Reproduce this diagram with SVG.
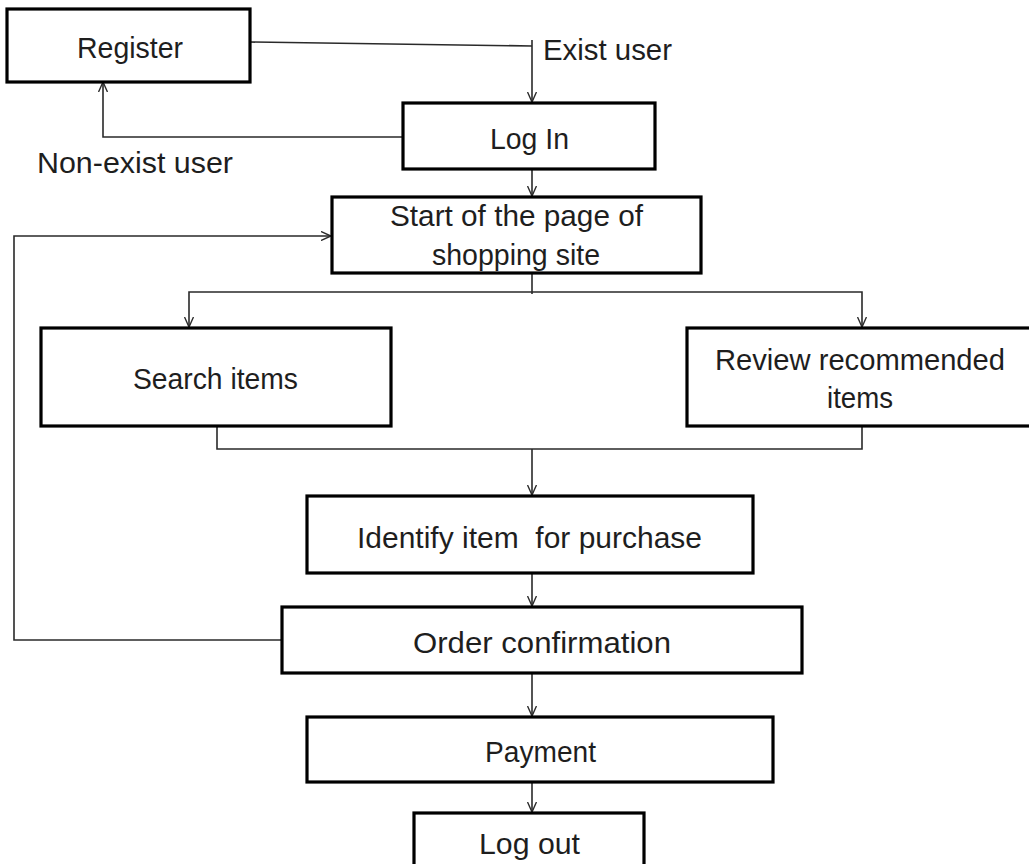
<svg xmlns="http://www.w3.org/2000/svg" width="1029" height="864" viewBox="0 0 1029 864">
<style>
  .box { fill: #ffffff; stroke: #000000; stroke-width: 3.2; }
  .lbl { font-family: "Liberation Sans", Arial, sans-serif; font-size: 30px; fill: #1e1e1e; text-anchor: middle; }
  .lbl-s { font-family: "Liberation Sans", Arial, sans-serif; font-size: 30px; fill: #1e1e1e; text-anchor: start; }
  .conn { fill: none; stroke: #2a2a2a; stroke-width: 1.6; }
</style>
<defs>
  <marker id="arr" viewBox="0 0 10 10" refX="10" refY="5" markerWidth="10" markerHeight="10" markerUnits="userSpaceOnUse" orient="auto">
    <path d="M0,0.5 L10,5 L0,9.5" fill="none" stroke="#2a2a2a" stroke-width="1.4"/>
  </marker>
</defs>
<rect width="1029" height="864" fill="#ffffff"/>

<g id="connectors">
  <path class="conn" d="M250,42 L532,46"/>
  <path class="conn" d="M532,40 L532,102" marker-end="url(#arr)"/>
  <path class="conn" d="M403,137 L103,137 L103,82" marker-end="url(#arr)"/>
  <path class="conn" d="M532,169 L532,196" marker-end="url(#arr)"/>
  <path class="conn" d="M532,273 L532,294"/>
  <path class="conn" d="M532,292 L189,292 L189,327" marker-end="url(#arr)"/>
  <path class="conn" d="M532,292 L862,292 L862,327" marker-end="url(#arr)"/>
  <path class="conn" d="M217,426 L217,449 L862,449 L862,426"/>
  <path class="conn" d="M532,449 L532,495" marker-end="url(#arr)"/>
  <path class="conn" d="M532,573 L532,606" marker-end="url(#arr)"/>
  <path class="conn" d="M282,640 L14,640 L14,236 L331,236" marker-end="url(#arr)"/>
  <path class="conn" d="M532,673 L532,716" marker-end="url(#arr)"/>
  <path class="conn" d="M532,782 L532,812" marker-end="url(#arr)"/>
</g>

<g id="node-register">
  <rect class="box" x="7" y="9" width="243" height="73"/>
  <text class="lbl" x="130" y="58" textLength="106" lengthAdjust="spacingAndGlyphs">Register</text>
</g>
<g id="label-exist">
  <text class="lbl-s" x="543" y="60" textLength="129" lengthAdjust="spacingAndGlyphs">Exist user</text>
</g>
<g id="label-nonexist">
  <text class="lbl-s" x="37" y="173" textLength="196" lengthAdjust="spacingAndGlyphs">Non-exist user</text>
</g>
<g id="node-login">
  <rect class="box" x="403" y="103" width="252" height="66"/>
  <text class="lbl" x="529.5" y="149" textLength="79" lengthAdjust="spacingAndGlyphs">Log In</text>
</g>
<g id="node-start">
  <rect class="box" x="332" y="197" width="369" height="76"/>
  <text class="lbl" x="516.5" y="226" textLength="253" lengthAdjust="spacingAndGlyphs">Start of the page of</text>
  <text class="lbl" x="516" y="265" textLength="168" lengthAdjust="spacingAndGlyphs">shopping site</text>
</g>
<g id="node-search">
  <rect class="box" x="41" y="328" width="350" height="98"/>
  <text class="lbl" x="215.5" y="389" textLength="165" lengthAdjust="spacingAndGlyphs">Search items</text>
</g>
<g id="node-review">
  <rect class="box" x="687" y="328" width="350" height="98"/>
  <text class="lbl" x="860" y="370" textLength="290" lengthAdjust="spacingAndGlyphs">Review recommended</text>
  <text class="lbl" x="860" y="408" textLength="66" lengthAdjust="spacingAndGlyphs">items</text>
</g>
<g id="node-identify">
  <rect class="box" x="307" y="496" width="446" height="77"/>
  <text class="lbl" x="529.5" y="548" textLength="345" lengthAdjust="spacingAndGlyphs" xml:space="preserve">Identify item  for purchase</text>
</g>
<g id="node-order">
  <rect class="box" x="282" y="607" width="520" height="66"/>
  <text class="lbl" x="542" y="653" textLength="258" lengthAdjust="spacingAndGlyphs">Order confirmation</text>
</g>
<g id="node-payment">
  <rect class="box" x="307" y="717" width="466" height="65"/>
  <text class="lbl" x="540.5" y="762" textLength="111" lengthAdjust="spacingAndGlyphs">Payment</text>
</g>
<g id="node-logout">
  <rect class="box" x="414" y="813" width="230" height="60"/>
  <text class="lbl" x="529.5" y="854" textLength="101" lengthAdjust="spacingAndGlyphs">Log out</text>
</g>
</svg>
